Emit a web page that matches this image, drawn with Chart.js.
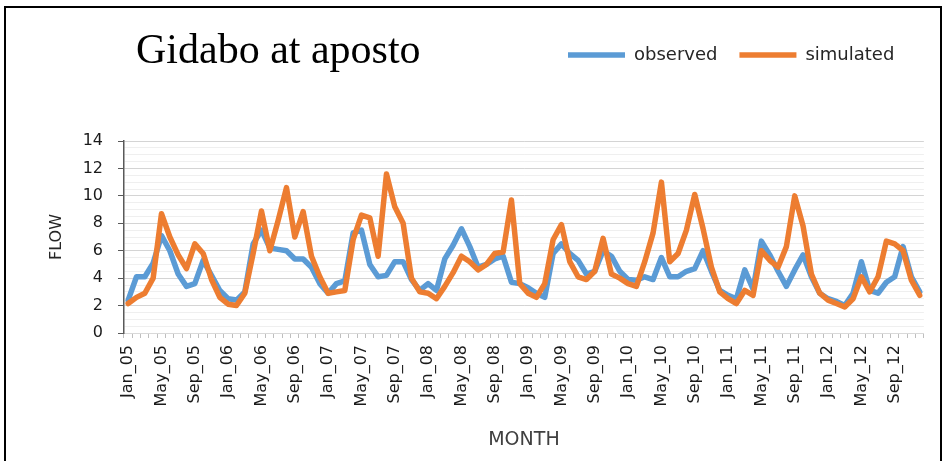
<!DOCTYPE html>
<html>
<head>
<meta charset="utf-8">
<title>Gidabo at aposto</title>
<script src="https://cdn.jsdelivr.net/npm/chart.js@4.4.1/dist/chart.umd.min.js"></script>
<style>
  html, body { margin: 0; padding: 0; background: #fff; }
  #wrap { position: relative; width: 946px; height: 461px; overflow: hidden; }
  #flowChart { position: absolute; left: 0; top: 0; }
  #frame { position: absolute; left: 4px; top: 6px; width: 934px; height: 480px; border: 2px solid #000; pointer-events: none; }
</style>
</head>
<body>
<div id="wrap">
  <canvas id="flowChart" width="946" height="461"></canvas>
  <div id="frame"></div>
</div>
<script>
'use strict';

const chartTitle = 'Gidabo at aposto';
const monthNames = ['Jan', 'Feb', 'Mar', 'Apr', 'May', 'Jun', 'Jul', 'Aug', 'Sep', 'Oct', 'Nov', 'Dec'];
const years = ['05', '06', '07', '08', '09', '10', '11', '12'];

// monthly flow, Jan_05 .. Dec_12
const observed = [
  2.4, 4.1, 4.1, 5.1, 7.1, 6.0, 4.3, 3.4, 3.6, 5.3, 4.2, 3.1,
  2.5, 2.4, 3.0, 6.5, 7.5, 6.2, 6.1, 6.0, 5.4, 5.4, 4.8, 3.6,
  2.9, 3.6, 3.8, 7.3, 7.5, 5.0, 4.1, 4.2, 5.2, 5.2, 3.9, 3.1,
  3.6, 3.1, 5.4, 6.4, 7.6, 6.3, 4.8, 5.0, 5.4, 5.6, 3.7, 3.6,
  3.3, 2.9, 2.6, 5.8, 6.5, 5.8, 5.3, 4.3, 4.5, 6.0, 5.6, 4.5,
  3.9, 3.85, 4.1, 3.9, 5.5, 4.1, 4.1, 4.5, 4.7, 6.0, 4.5, 3.1,
  2.75, 2.5, 4.6, 3.2, 6.7, 5.7, 4.5, 3.4, 4.6, 5.7, 4.1, 2.9,
  2.5, 2.3, 2.0, 2.9, 5.2, 3.1, 2.9, 3.7, 4.1, 6.3, 4.1, 3.0,
];
const simulated = [
  2.15, 2.6, 2.9, 4.0, 8.7, 7.0, 5.7, 4.7, 6.5, 5.8, 3.9, 2.6,
  2.1, 2.0, 2.9, 5.8, 8.9, 6.0, 8.2, 10.6, 7.0, 8.85, 5.6, 4.1,
  2.9, 3.0, 3.1, 6.8, 8.6, 8.4, 5.6, 11.6, 9.2, 8.0, 4.0, 3.0,
  2.9, 2.5, 3.4, 4.4, 5.6, 5.2, 4.6, 5.0, 5.8, 5.9, 9.7, 3.6,
  2.9, 2.6, 3.6, 6.8, 7.9, 5.2, 4.1, 3.9, 4.5, 6.9, 4.3, 4.0,
  3.6, 3.4, 5.2, 7.3, 11.0, 5.2, 5.8, 7.5, 10.1, 7.6, 4.8, 3.0,
  2.5, 2.15, 3.1, 2.75, 6.0, 5.3, 4.8, 6.3, 10.0, 7.8, 4.3, 2.9,
  2.4, 2.15, 1.9, 2.5, 4.1, 3.0, 4.1, 6.7, 6.5, 6.0, 3.85, 2.75,
];

const labels = [];
years.forEach(function (yr) {
  monthNames.forEach(function (m) { labels.push(m + '_' + yr); });
});

const blue = '#5B9BD5';
const orange = '#ED7D31';
const sansFont = 'DejaVu Sans';

// title sits on the same row as the legend, so draw it by hand
const titlePlugin = {
  id: 'sideTitle',
  afterDraw(chart) {
    const ctx = chart.ctx;
    ctx.save();
    ctx.font = '42px "Liberation Serif"';
    ctx.fillStyle = '#000';
    ctx.textBaseline = 'alphabetic';
    ctx.textAlign = 'left';
    ctx.fillText(chartTitle, 136, 63);
    ctx.restore();
  },
};

// move the legend up next to the title
const legendPlacement = {
  id: 'legendPlacement',
  afterLayout(chart) {
    const legend = chart.legend;
    if (!legend) { return; }
    legend.left = 546;
    legend.right = chart.width;
    legend.top = 24;
  },
};

new Chart(document.getElementById('flowChart'), {
  type: 'line',
  data: {
    labels: labels,
    datasets: [
      {
        label: 'observed',
        data: observed,
        borderColor: blue,
        backgroundColor: blue,
        borderWidth: 5.5,
        pointRadius: 0,
        tension: 0,
        borderCapStyle: 'round',
        borderJoinStyle: 'round',
        order: 1,
      },
      {
        label: 'simulated',
        data: simulated,
        borderColor: orange,
        backgroundColor: orange,
        borderWidth: 5.5,
        pointRadius: 0,
        tension: 0,
        borderCapStyle: 'round',
        borderJoinStyle: 'round',
        order: 0,
      },
    ],
  },
  options: {
    responsive: false,
    animation: false,
    devicePixelRatio: 1,
    layout: {padding: {top: 91, right: 18, bottom: 0, left: 0}},
    plugins: {
      tooltip: {enabled: false},
      title: {display: false},
      legend: {
        display: true,
        position: 'top',
        align: 'start',
        labels: {
          usePointStyle: true,
          pointStyle: 'line',
          pointStyleWidth: 57,
          padding: 22,
          color: '#262626',
          font: {family: sansFont, size: 18},
          sort: function (a, b) { return a.datasetIndex - b.datasetIndex; },
        },
      },
    },
    scales: {
      x: {
        offset: true,
        grid: {
          offset: true,
          drawOnChartArea: false,
          tickLength: 5,
          color: '#bfbfbf',
        },
        border: {color: '#d9d9d9'},
        ticks: {
          autoSkip: false,
          minRotation: 90,
          maxRotation: 90,
          padding: 7,
          color: '#1a1a1a',
          font: {family: sansFont, size: 16},
          callback: function (value, index) {
            return index % 4 === 0 ? this.getLabelForValue(value) : '';
          },
        },
        title: {
          display: true,
          text: 'MONTH',
          color: '#404040',
          font: {family: sansFont, size: 19},
          padding: {top: 0, bottom: 10},
        },
        afterFit: function (scale) { scale.height = 128; },
      },
      y: {
        min: 0,
        max: 14,
        ticks: {
          stepSize: 0.5,
          autoSkip: false,
          padding: 15,
          color: '#1a1a1a',
          font: {family: sansFont, size: 16},
          callback: function (value) { return value % 2 === 0 ? value : ''; },
        },
        grid: {
          tickLength: 6,
          color: function (c) { return c.tick && c.tick.value % 2 === 0 ? '#d4d4d4' : '#efefef'; },
          tickColor: function (c) { return c.tick && c.tick.value % 2 === 0 ? '#595959' : 'rgba(0,0,0,0)'; },
        },
        border: {color: '#595959', width: 1.5},
        title: {
          display: true,
          text: 'FLOW',
          color: '#262626',
          font: {family: sansFont, size: 16},
          padding: {top: 47, bottom: 0},
        },
        afterFit: function (scale) { scale.width = 124; },
      },
    },
  },
  plugins: [titlePlugin, legendPlacement],
});
</script>
</body>
</html>
